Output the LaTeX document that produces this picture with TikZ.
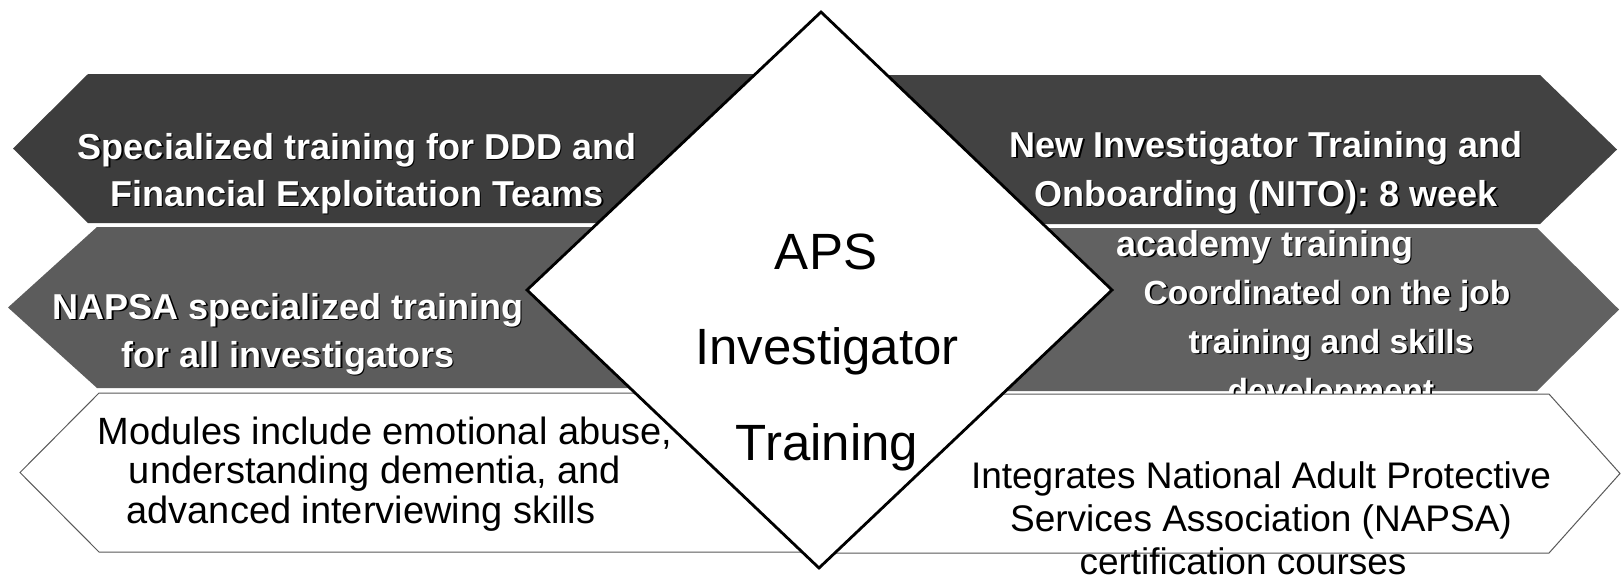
\documentclass[tikz,border=0pt]{standalone}
\usepackage{fontspec}
\setmainfont{Liberation Sans}
\definecolor{shadeLA}{gray}{0.24}
\definecolor{shadeLB}{gray}{0.36}
\definecolor{shadeRA}{gray}{0.26}
\definecolor{shadeRB}{gray}{0.38}
\definecolor{edgegray}{gray}{0.35}
\newcommand\wline[4][]{%
  \node[btxt,#1,text=black,xshift=1.6pt,yshift=-1.6pt] (#2s) at (#3) {#4};
  \node[btxt,#1,text=white] (#2) at (#3) {#4};}
\begin{document}
\begin{tikzpicture}[x=1pt,y=-1pt,
  btxt/.style={font=\bfseries\fontsize{36}{42}\selectfont, anchor=base, inner sep=0pt},
  smallbold/.style={font=\bfseries\fontsize{33.5}{40}\selectfont},
  rtxt/.style={font=\fontsize{38}{42}\selectfont, anchor=base, inner sep=0pt, text=black},
  ctxt/.style={font=\fontsize{51}{56}\selectfont, anchor=base, inner sep=0pt, text=black},
  whitebox/.style={fill=white, draw=edgegray, line width=1pt},
  diam/.style={fill=white, draw=black, line width=2.8pt, line join=miter}]
\useasboundingbox (0,0) rectangle (1621,582);
\fill[white] (0,0) rectangle (1621,582);

% left arrows
\fill[shadeLA] (88,74) -- (13,148.5) -- (88,223) -- (790,223) -- (790,74) -- cycle;
\fill[shadeLB] (97,227) -- (8,307.5) -- (97,388) -- (800,388) -- (800,227) -- cycle;
\draw[whitebox] (99,393) -- (20,472.5) -- (99,552) -- (812,552) -- (812,393) -- cycle;
% right arrows (top two)
\fill[shadeRA] (850,75) -- (1540,75) -- (1617,149.5) -- (1540,224) -- (850,224) -- cycle;
\fill[shadeRB] (830,228) -- (1537,228) -- (1619,309.5) -- (1537,391) -- (830,391) -- cycle;

% texts on dark arrows
\wline{la1}{357,159}{Specialized training for DDD and}
\wline{la2}{357,206}{Financial Exploitation Teams}
\wline{lb1}{288,319}{NAPSA specialized training}
\wline{lb2}{288,367}{for all investigators}
\wline{ra1}{1266,157}{New Investigator Training and}
\wline{ra2}{1266,206}{Onboarding (NITO): 8 week}
\wline{ra3}{1265,256}{academy training}
\wline[smallbold]{rb1}{1327,304}{Coordinated on the job}
\wline[smallbold]{rb2}{1331,353}{training and skills}
\wline[smallbold]{rb3}{1331,402}{development}

% text of left white arrow
\node[rtxt] (lc1) at (385,444) {Modules include emotional abuse,};
\node[rtxt] (lc2) at (375,483) {understanding dementia, and};
\node[rtxt] (lc3) at (361,523) {advanced interviewing skills};

% right white arrow (covers part of the text above)
\draw[whitebox] (828,394) -- (1549,394) -- (1620,473.5) -- (1549,553) -- (828,553) -- cycle;
\node[rtxt,font=\fontsize{37}{42}\selectfont] (rc1) at (1261,488) {Integrates National Adult Protective};
\node[rtxt,font=\fontsize{37}{42}\selectfont] (rc2) at (1261,531) {Services Association (NAPSA)};
\node[rtxt,font=\fontsize{37}{42}\selectfont] (rc3) at (1243,574) {certification courses};

% central diamond
\draw[diam] (821,12) -- (1112,290) -- (819,568) -- (527,290) -- cycle;
\node[ctxt] (cA) at (826,269) {APS};
\node[ctxt] (cB) at (827,364) {Investigator};
\node[ctxt] (cC) at (827,460) {Training};
\end{tikzpicture}
\end{document}
